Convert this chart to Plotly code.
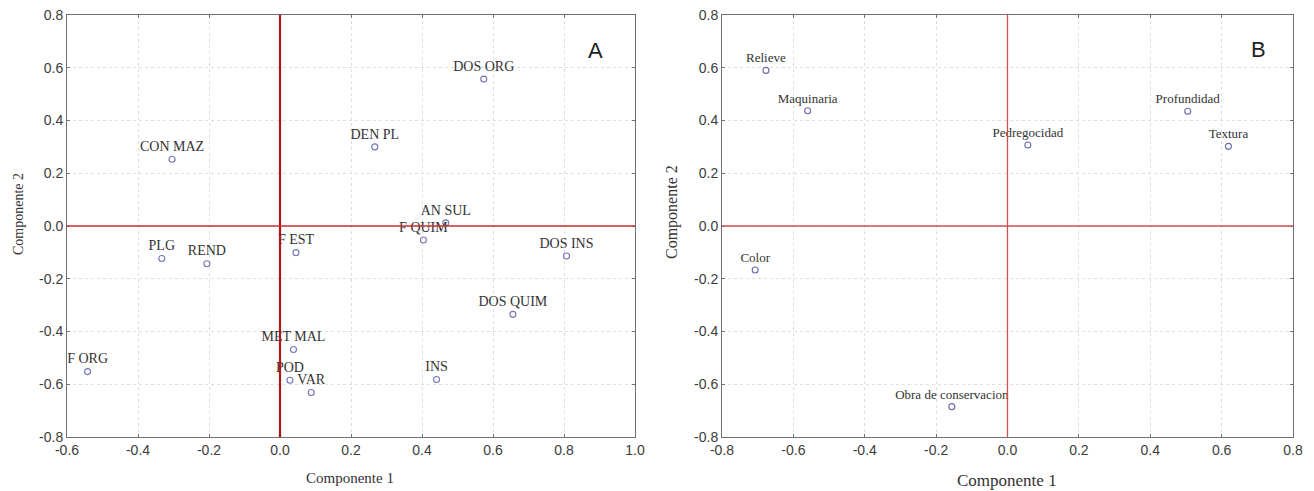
import plotly.graph_objects as go

# Panel A: loadings of management variables
a_labels = ["CON MAZ", "DOS ORG", "DEN PL", "AN SUL", "F QUIM", "DOS INS", "DOS QUIM",
            "INS", "VAR", "POD", "MET MAL", "F ORG", "PLG", "REND", "F EST"]
a_comp1 = [-0.304, 0.574, 0.267, 0.467, 0.404, 0.807, 0.656,
           0.441, 0.088, 0.028, 0.038, -0.542, -0.333, -0.206, 0.045]
a_comp2 = [0.253, 0.557, 0.300, 0.012, -0.053, -0.114, -0.335,
           -0.582, -0.631, -0.585, -0.468, -0.552, -0.123, -0.143, -0.101]

# Panel B: loadings of soil/terrain variables
b_labels = ["Relieve", "Maquinaria", "Pedregocidad", "Profundidad", "Textura", "Color",
            "Obra de conservacion"]
b_comp1 = [-0.677, -0.560, 0.057, 0.505, 0.619, -0.707, -0.156]
b_comp2 = [0.590, 0.437, 0.307, 0.435, 0.302, -0.167, -0.685]

a_xticks = [-0.6, -0.4, -0.2, 0.0, 0.2, 0.4, 0.6, 0.8, 1.0]
b_xticks = [-0.8, -0.6, -0.4, -0.2, 0.0, 0.2, 0.4, 0.6, 0.8]
yticks = [-0.8, -0.6, -0.4, -0.2, 0.0, 0.2, 0.4, 0.6, 0.8]

W, H = 1314, 491
SERIF = "Liberation Serif, Times New Roman, serif"
SANS = "Liberation Sans, Arial, sans-serif"

fig = go.Figure()

ydom = [1 - 437 / H, 1 - 15 / H]


def axis_style(domain, rng, ticks, anchor):
    return dict(
        domain=domain, range=rng, tickvals=ticks,
        ticktext=[f"{t:.1f}" for t in ticks], anchor=anchor,
        automargin=False,
        showline=True, linecolor="#707070", linewidth=1, mirror="ticks",
        ticks="inside", ticklen=3, tickcolor="#707070",
        showgrid=True, gridcolor="#dedede", griddash="dot", gridwidth=1,
        zeroline=False,
        tickfont=dict(family=SANS, size=14, color="#3c3c3c"),
    )


fig.update_layout(
    width=W, height=H, autosize=False,
    margin=dict(l=0, r=0, t=0, b=0),
    paper_bgcolor="white", plot_bgcolor="white",
    xaxis=axis_style([67 / W, 635 / W], [-0.6, 1.0], a_xticks, "y"),
    yaxis=axis_style(ydom, [-0.8, 0.8], yticks, "x"),
    xaxis2=axis_style([722 / W, 1293 / W], [-0.8, 0.8], b_xticks, "y2"),
    yaxis2=axis_style(ydom, [-0.8, 0.8], yticks, "x2"),
)

# Origin reference lines
fig.add_shape(type="line", xref="x", yref="y domain", x0=0, x1=0, y0=0, y1=1,
              line=dict(color="#b01818", width=2.2), layer="above")
fig.add_shape(type="line", xref="x domain", yref="y", x0=0, x1=1, y0=0, y1=0,
              line=dict(color="#c83030", width=1.4), layer="above")
fig.add_shape(type="line", xref="x2", yref="y2 domain", x0=0, x1=0, y0=0, y1=1,
              line=dict(color="#cf5050", width=1.3), layer="above")
fig.add_shape(type="line", xref="x2 domain", yref="y2", x0=0, x1=1, y0=0, y1=0,
              line=dict(color="#cf5050", width=1.3), layer="above")

fig.add_trace(go.Scatter(
    x=a_comp1, y=a_comp2, text=a_labels, mode="markers+text",
    textposition="top center",
    textfont=dict(family=SERIF, size=14, color="#333333"),
    marker=dict(size=6, color="rgba(0,0,0,0)", line=dict(color="#7474b8", width=1.1)),
    xaxis="x", yaxis="y", showlegend=False, cliponaxis=False,
))
fig.add_trace(go.Scatter(
    x=b_comp1, y=b_comp2, text=b_labels, mode="markers+text",
    textposition="top center",
    textfont=dict(family=SERIF, size=13, color="#333333"),
    marker=dict(size=6, color="rgba(0,0,0,0)", line=dict(color="#6a6aae", width=1.1)),
    xaxis="x2", yaxis="y2", showlegend=False, cliponaxis=False,
))

# Axis titles and panel letters
anns = [
    dict(x=350 / W, y=1 - 478 / H, text="Componente 1", xanchor="center",
         font=dict(family=SERIF, size=15, color="#333333")),
    dict(x=18 / W, y=1 - 214 / H, text="Componente 2", textangle=-90, xanchor="center",
         font=dict(family=SERIF, size=14, color="#333333")),
    dict(x=1007 / W, y=1 - 480 / H, text="Componente 1", xanchor="center",
         font=dict(family=SERIF, size=17, color="#333333")),
    dict(x=672 / W, y=1 - 212 / H, text="Componente 2", textangle=-90, xanchor="center",
         font=dict(family=SERIF, size=16, color="#333333")),
    dict(x=595 / W, y=1 - 50 / H, text="A", xanchor="center",
         font=dict(family=SANS, size=22, color="#222222")),
    dict(x=1258 / W, y=1 - 49 / H, text="B", xanchor="center",
         font=dict(family=SANS, size=22, color="#222222")),
]
for a in anns:
    fig.add_annotation(xref="paper", yref="paper", showarrow=False,
                       yanchor="middle", **a)

fig.write_html("out.html")
